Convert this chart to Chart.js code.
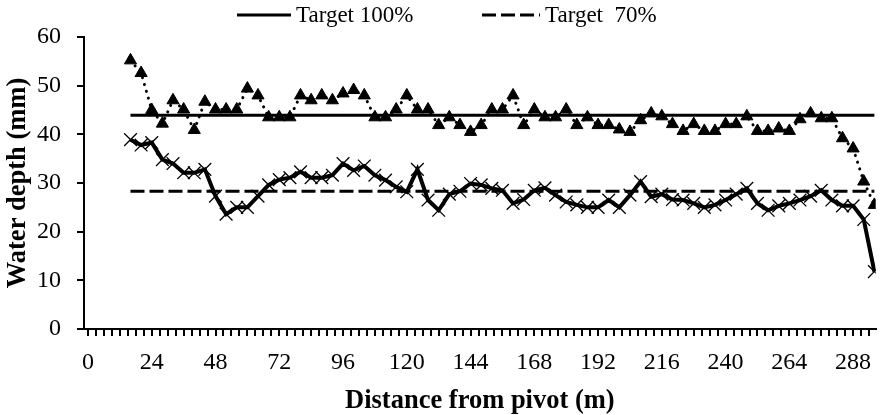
<!DOCTYPE html>
<html>
<head>
<meta charset="utf-8">
<script src="https://cdn.jsdelivr.net/npm/chart.js@4.4.1/dist/chart.umd.min.js"></script>
<style>
  body { margin: 0; background: #fff; }
  canvas { display: block; }
</style>
</head>
<body>
<canvas id="myChart" width="886" height="415"></canvas>
<script>
// distance from pivot (m)
var distance = [16, 20, 24, 28, 32, 36, 40, 44, 48, 52, 56, 60, 64, 68, 72, 76, 80, 84, 88, 92,
  96, 100, 104, 108, 112, 116, 120, 124, 128, 132, 136, 140, 144, 148, 152, 156, 160, 164, 168, 172,
  176, 180, 184, 188, 192, 196, 200, 204, 208, 212, 216, 220, 224, 228, 232, 236, 240, 244, 248, 252,
  256, 260, 264, 268, 272, 276, 280, 284, 288, 292, 296];

// water depth, triangle series (mm)
var depthA = [55.2, 52.6, 45.0, 42.2, 47.0, 45.1, 40.9, 46.7, 45.1, 45.1, 45.1, 49.4, 48.0, 43.5, 43.5, 43.5, 48.0, 47.0, 48.0, 47.0,
  48.4, 49.1, 48.0, 43.5, 43.5, 45.1, 48.0, 45.1, 45.1, 41.9, 43.5, 41.9, 40.5, 41.9, 45.1, 45.1, 48.0, 41.9, 45.1, 43.5,
  43.5, 45.1, 41.9, 43.5, 41.9, 41.9, 41.0, 40.5, 42.9, 44.3, 43.7, 42.1, 40.7, 42.1, 40.7, 40.7, 42.1, 42.1, 43.7, 40.7,
  40.7, 41.2, 40.7, 43.1, 44.3, 43.3, 43.3, 39.2, 37.1, 30.3, 25.5];

// water depth, cross series (mm)
var depthX = [38.9, 37.8, 38.3, 34.8, 34.0, 32.1, 32.1, 32.8, 27.3, 23.6, 25.0, 25.0, 27.3, 29.6, 30.7, 31.1, 32.3, 31.1, 31.1, 31.6,
  34.0, 32.6, 33.5, 31.6, 30.6, 29.2, 28.2, 32.8, 26.5, 24.4, 27.7, 28.3, 29.9, 29.6, 28.9, 28.5, 25.8, 26.6, 28.5, 29.0,
  27.5, 26.1, 25.5, 25.0, 25.0, 26.5, 25.0, 27.5, 30.3, 27.2, 27.7, 26.6, 26.5, 25.8, 25.0, 25.5, 26.5, 27.7, 28.9, 25.8,
  24.4, 25.3, 25.8, 26.5, 27.3, 28.5, 26.5, 25.3, 25.3, 22.5, 11.8];

var target100 = 43.9;
var target70 = 28.3;

var xLabels = [0, 24, 48, 72, 96, 120, 144, 168, 192, 216, 240, 264, 288];
var xMinorTicks = [0, 3, 6, 9, 12, 15, 18, 21, 24, 27, 30, 33, 36, 39, 42, 45, 48, 51, 54, 57, 60, 63, 66, 69, 72, 75, 78, 81, 84, 87,
  90, 93, 96, 99, 102, 105, 108, 111, 114, 117, 120, 123, 126, 129, 132, 135, 138, 141, 144, 147, 150, 153, 156, 159, 162, 165, 168,
  171, 174, 177, 180, 183, 186, 189, 192, 195, 198, 201, 204, 207, 210, 213, 216, 219, 222, 225, 228, 231, 234, 237, 240, 243, 246,
  249, 252, 255, 258, 261, 264, 267, 270, 273, 276, 279, 282, 285, 288, 291, 294];
var yTicks = [0, 10, 20, 30, 40, 50, 60];

var serif = "'Liberation Serif', 'Times New Roman', serif";

function pairs(xs, ys) {
  return xs.map(function (x, i) { return { x: x, y: ys[i] }; });
}
function flat(xs, v) {
  return [{ x: xs[0], y: v }, { x: xs[xs.length - 1], y: v }];
}

// legend drawn at the top, only for the two target lines
var topLegend = {
  id: 'topLegend',
  afterDraw: function (chart) {
    var ctx = chart.ctx;
    var items = [
      { ds: 2, x0: 237, x1: 291, tx: 296 },
      { ds: 3, x0: 482, x1: 540, tx: 545 }
    ];
    var y = 15;
    ctx.save();
    ctx.font = '23px ' + serif;
    ctx.textBaseline = 'middle';
    ctx.textAlign = 'left';
    items.forEach(function (it) {
      var ds = chart.data.datasets[it.ds];
      ctx.strokeStyle = ds.borderColor;
      ctx.lineWidth = ds.borderWidth;
      ctx.setLineDash(ds.borderDash || []);
      ctx.beginPath();
      ctx.moveTo(it.x0, y);
      ctx.lineTo(it.x1, y);
      ctx.stroke();
      ctx.setLineDash([]);
      ctx.fillStyle = '#000';
      ctx.fillText(ds.label, it.tx, y + 1);
    });
    ctx.restore();
  }
};

var ctx = document.getElementById('myChart').getContext('2d');
var myChart = new Chart(ctx, {
  type: 'line',
  data: {
    datasets: [{
      label: 'Measured A',
      data: pairs(distance, depthA),
      borderColor: '#000',
      borderWidth: 3,
      borderDash: [0.1, 7],
      borderCapStyle: 'round',
      pointStyle: 'triangle',
      pointRadius: 7,
      pointBorderWidth: 1,
      pointBackgroundColor: '#000',
      pointBorderColor: '#000',
      tension: 0
    }, {
      label: 'Measured B',
      data: pairs(distance, depthX),
      borderColor: '#000',
      borderWidth: 4,
      pointStyle: 'crossRot',
      pointRadius: 9,
      pointBorderWidth: 1.3,
      pointBorderColor: '#000',
      tension: 0
    }, {
      label: 'Target 100%',
      data: flat(distance, target100),
      borderColor: '#000',
      borderWidth: 3,
      pointRadius: 0
    }, {
      label: 'Target  70%',
      data: flat(distance, target70),
      borderColor: '#000',
      borderWidth: 3,
      borderDash: [14, 5],
      pointRadius: 0
    }]
  },
  options: {
    responsive: false,
    animation: false,
    devicePixelRatio: 1,
    layout: { padding: { left: 0, right: 2, top: 37, bottom: 0 } },
    plugins: {
      legend: { display: false },
      tooltip: { enabled: false }
    },
    scales: {
      x: {
        type: 'linear',
        min: -1.5,
        max: 296.5,
        afterFit: function (scale) { scale.height = 86; },
        afterBuildTicks: function (scale) {
          scale.ticks = xMinorTicks.map(function (v) { return { value: v }; });
        },
        ticks: {
          autoSkip: false,
          maxRotation: 0,
          padding: 12,
          color: '#000',
          font: { family: serif, size: 24 },
          callback: function (v) { return xLabels.indexOf(v) >= 0 ? String(v) : ''; }
        },
        grid: { drawOnChartArea: false, drawTicks: true, tickLength: 7, color: '#000', lineWidth: 2 },
        border: { display: true, color: '#000', width: 2 },
        title: {
          display: true,
          text: 'Distance from pivot (m)',
          color: '#000',
          font: { family: serif, size: 26.5, weight: 'bold', lineHeight: 1 },
          padding: { top: 0, bottom: 1 }
        }
      },
      y: {
        min: 0,
        max: 60,
        afterFit: function (scale) { scale.width = 84; },
        afterBuildTicks: function (scale) {
          scale.ticks = yTicks.map(function (v) { return { value: v }; });
        },
        ticks: {
          padding: 16,
          color: '#000',
          font: { family: serif, size: 24 }
        },
        grid: { drawOnChartArea: false, drawTicks: true, tickLength: 7, color: '#000', lineWidth: 2 },
        border: { display: true, color: '#000', width: 2 },
        title: {
          display: true,
          text: 'Water depth (mm)',
          color: '#000',
          font: { family: serif, size: 26.5, weight: 'bold', lineHeight: 1 },
          padding: { top: 5, bottom: 0 }
        }
      }
    }
  },
  plugins: [topLegend]
});
</script>
</body>
</html>
